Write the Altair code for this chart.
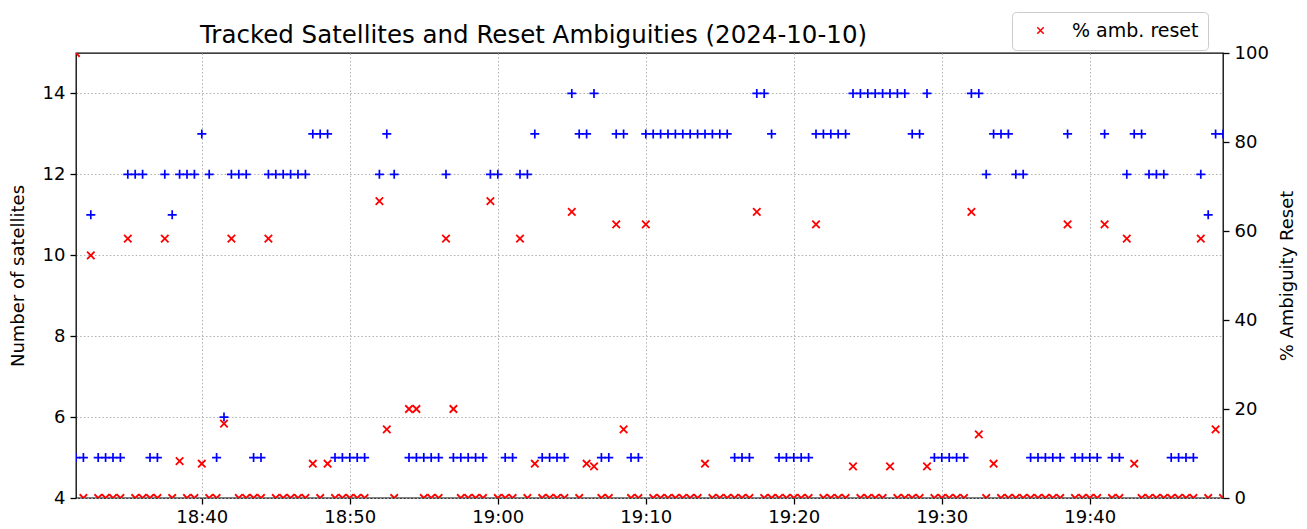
import altair as alt
import pandas as pd

# epoch times (every 30 s, two gaps), tracked satellites, % ambiguities reset
times = [
    "18:31:30", "18:32:00", "18:32:30", "18:33:00", "18:33:30", "18:34:00", "18:34:30", "18:35:00",
    "18:35:30", "18:36:00", "18:36:30", "18:37:00", "18:37:30", "18:38:00", "18:38:30", "18:39:00",
    "18:39:30", "18:40:00", "18:40:30", "18:41:00", "18:41:30", "18:42:00", "18:42:30", "18:43:00",
    "18:43:30", "18:44:00", "18:44:30", "18:45:00", "18:45:30", "18:46:00", "18:46:30", "18:47:00",
    "18:47:30", "18:48:00", "18:48:30", "18:49:00", "18:49:30", "18:50:00", "18:50:30", "18:51:00",
    "18:52:00", "18:52:30", "18:53:00",
    "18:54:00", "18:54:30", "18:55:00", "18:55:30", "18:56:00", "18:56:30", "18:57:00", "18:57:30",
    "18:58:00", "18:58:30", "18:59:00", "18:59:30", "19:00:00", "19:00:30", "19:01:00", "19:01:30",
    "19:02:00", "19:02:30", "19:03:00", "19:03:30", "19:04:00", "19:04:30", "19:05:00", "19:05:30",
    "19:06:00", "19:06:30", "19:07:00", "19:07:30", "19:08:00", "19:08:30", "19:09:00", "19:09:30",
    "19:10:00", "19:10:30", "19:11:00", "19:11:30", "19:12:00", "19:12:30", "19:13:00", "19:13:30",
    "19:14:00", "19:14:30", "19:15:00", "19:15:30", "19:16:00", "19:16:30", "19:17:00", "19:17:30",
    "19:18:00", "19:18:30", "19:19:00", "19:19:30", "19:20:00", "19:20:30", "19:21:00", "19:21:30",
    "19:22:00", "19:22:30", "19:23:00", "19:23:30", "19:24:00", "19:24:30", "19:25:00", "19:25:30",
    "19:26:00", "19:26:30", "19:27:00", "19:27:30", "19:28:00", "19:28:30", "19:29:00", "19:29:30",
    "19:30:00", "19:30:30", "19:31:00", "19:31:30", "19:32:00", "19:32:30", "19:33:00", "19:33:30",
    "19:34:00", "19:34:30", "19:35:00", "19:35:30", "19:36:00", "19:36:30", "19:37:00", "19:37:30",
    "19:38:00", "19:38:30", "19:39:00", "19:39:30", "19:40:00", "19:40:30", "19:41:00", "19:41:30",
    "19:42:00", "19:42:30", "19:43:00", "19:43:30", "19:44:00", "19:44:30", "19:45:00", "19:45:30",
    "19:46:00", "19:46:30", "19:47:00", "19:47:30", "19:48:00", "19:48:30", "19:49:00",
]

sats = [
    5, 5, 11, 5, 5, 5, 5, 12,
    12, 12, 5, 5, 12, 11, 12, 12,
    12, 13, 12, 5, 6, 12, 12, 12,
    5, 5, 12, 12, 12, 12, 12, 12,
    13, 13, 13, 5, 5, 5, 5, 5,
    12, 13, 12,
    5, 5, 5, 5, 5, 12, 5, 5,
    5, 5, 5, 12, 12, 5, 5, 12,
    12, 13, 5, 5, 5, 5, 14, 13,
    13, 14, 5, 5, 13, 13, 5, 5,
    13, 13, 13, 13, 13, 13, 13, 13,
    13, 13, 13, 13, 5, 5, 5, 14,
    14, 13, 5, 5, 5, 5, 5, 13,
    13, 13, 13, 13, 14, 14, 14, 14,
    14, 14, 14, 14, 13, 13, 14, 5,
    5, 5, 5, 5, 14, 14, 12, 13,
    13, 13, 12, 12, 5, 5, 5, 5,
    5, 13, 5, 5, 5, 5, 13, 5,
    5, 12, 13, 13, 12, 12, 12, 5,
    5, 5, 5, 12, 11, 13, 13,
]

reset = [
    100, 0, 54.5, 0, 0, 0, 0, 58.3,
    0, 0, 0, 0, 58.3, 0, 8.3, 0,
    0, 7.7, 0, 0, 16.7, 58.3, 0, 0,
    0, 0, 58.3, 0, 0, 0, 0, 0,
    7.7, 0, 7.7, 0, 0, 0, 0, 0,
    66.7, 15.4, 0,
    20, 20, 0, 0, 0, 58.3, 20, 0,
    0, 0, 0, 66.7, 0, 0, 0, 58.3,
    0, 7.7, 0, 0, 0, 0, 64.3, 0,
    7.7, 7.1, 0, 0, 61.5, 15.4, 0, 0,
    61.5, 0, 0, 0, 0, 0, 0, 0,
    7.7, 0, 0, 0, 0, 0, 0, 64.3,
    0, 0, 0, 0, 0, 0, 0, 61.5,
    0, 0, 0, 0, 7.1, 0, 0, 0,
    0, 7.1, 0, 0, 0, 0, 7.1, 0,
    0, 0, 0, 0, 64.3, 14.3, 0, 7.7,
    0, 0, 0, 0, 0, 0, 0, 0,
    0, 61.5, 0, 0, 0, 0, 61.5, 0,
    0, 58.3, 7.7, 0, 0, 0, 0, 0,
    0, 0, 0, 58.3, 0, 15.4, 0,
]

x_ticks = ["18:40", "18:50", "19:00", "19:10", "19:20", "19:30", "19:40"]
left_ticks = [4, 6, 8, 10, 12, 14]
right_ticks = [0, 20, 40, 60, 80, 100]

df = pd.DataFrame({
    "time": ["2024-10-10T" + t for t in times],
    "sats": sats,
    "reset": reset,
    "series": ["% amb. reset"] * len(times),
})


def dt(hhmmss):
    h, m, s = (int(v) for v in hhmmss.split(":"))
    return alt.DateTime(year=2024, month=10, date=10, hours=h, minutes=m, seconds=s)


FONT = "DejaVu Sans"
W, H = 1147, 445

x_enc = alt.X(
    "time:T",
    scale=alt.Scale(domain=[dt("18:31:30"), dt("19:49:00")], nice=False),
    axis=alt.Axis(
        values=[dt(t + ":00") for t in x_ticks], format="%H:%M", title=None,
        grid=True, gridColor="#b0b0b0", gridDash=[1.5, 2.2], gridWidth=1,
        labelPadding=4, tickSize=6,
    ),
)

PLUS = "M-1,0L1,0M0,-1L0,1"
CROSS = "M-1,-1L1,1M-1,1L1,-1"

blue = alt.Chart(df).mark_point(
    shape=PLUS, filled=False, color="#0000ff", strokeWidth=1.7, size=81, opacity=1, clip=True
).encode(
    x=x_enc,
    y=alt.Y(
        "sats:Q",
        scale=alt.Scale(domain=[4, 15], nice=False, zero=False),
        axis=alt.Axis(
            orient="left", values=left_ticks, title="Number of satellites",
            grid=True, gridColor="#b0b0b0", gridDash=[1.5, 2.2], gridWidth=1,
            titleX=-58, titleY=H / 2, titleAngle=270, titleBaseline="middle", titleAlign="center",
            labelPadding=5, tickSize=6,
        ),
    ),
)

red = alt.Chart(df).mark_point(
    filled=False, color="#ff0000", strokeWidth=1.8, size=56, opacity=1, clip=True
).encode(
    x=x_enc,
    y=alt.Y(
        "reset:Q",
        scale=alt.Scale(domain=[0, 100], nice=False),
        axis=alt.Axis(
            orient="right", values=right_ticks, title="% Ambiguity Reset", grid=False,
            titleX=64, titleY=H / 2, titleAngle=270, titleBaseline="middle", titleAlign="center",
            labelPadding=5, tickSize=6,
        ),
    ),
    shape=alt.Shape(
        "series:N", scale=alt.Scale(range=[CROSS]),
        legend=alt.Legend(
            title=None, orient="none", legendX=936, legendY=-41, padding=9,
            strokeColor="#cccccc", cornerRadius=4, fillColor="white",
            labelFont=FONT, labelFontSize=19, labelColor="black", labelOffset=22,
            symbolSize=42, symbolStrokeWidth=1.5, symbolStrokeColor="#ff0000",
            symbolFillColor="transparent", symbolOffset=10,
        ),
    ),
)

chart = alt.layer(blue, red).resolve_scale(y="independent").properties(
    width=W, height=H,
    autosize=alt.AutoSizeParams(type="none"),
    padding={"left": 68, "top": 45, "right": 76, "bottom": 31},
    title=alt.TitleParams(
        "Tracked Satellites and Reset Ambiguities (2024-10-10)",
        font=FONT, fontSize=24.5, fontWeight="normal", color="black",
        anchor="middle", dx=-116, offset=-56, baseline="alphabetic", frame="group",
    ),
).configure_view(
    stroke="black", strokeWidth=1.3
).configure_axis(
    domain=False, labelFont=FONT, labelFontSize=18, labelColor="black",
    titleFont=FONT, titleFontSize=18, titleFontWeight="normal", titleColor="black",
    tickColor="black", tickWidth=1.3,
)

chart.save("out.html", embed_options={"renderer": "svg", "actions": False})
